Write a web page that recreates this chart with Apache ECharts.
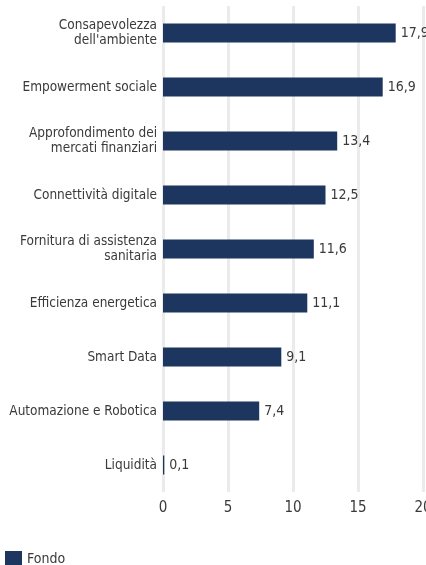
<!DOCTYPE html>
<html>
<head>
<meta charset="utf-8">
<script src="https://cdn.jsdelivr.net/npm/echarts@6/dist/echarts.min.js"></script>
<style>
  html, body { margin: 0; padding: 0; background: #fff; }
  #chart { width: 426px; height: 565px; }
</style>
</head>
<body>
<div id="chart"></div>
<script>
  // categorie dall'alto verso il basso
  const categories = [
    'Consapevolezza\ndell\'ambiente',
    'Empowerment sociale',
    'Approfondimento dei\nmercati finanziari',
    'Connettività digitale',
    'Fornitura di assistenza\nsanitaria',
    'Efficienza energetica',
    'Smart Data',
    'Automazione e Robotica',
    'Liquidità',
  ];
  const fondo = [17.9, 16.9, 13.4, 12.5, 11.6, 11.1, 9.1, 7.4, 0.1];
  const xTicks = [0, 5, 10, 15, 20];

  const font = '"DejaVu Sans Condensed", "Liberation Sans Narrow", sans-serif';
  const textColor = '#3a3a3a';
  const barColor = '#1c365f';

  const chart = echarts.init(document.getElementById('chart'));

  const option = {
    animation: false,
    textStyle: { fontFamily: font },
    legend: {
      data: ['Fondo'],
      left: 0,
      top: 546,
      itemWidth: 17,
      itemHeight: 17,
      itemGap: 8,
      icon: 'rect',
      textStyle: { color: textColor, fontSize: 14, fontFamily: font },
    },
    grid: {
      left: 163,
      right: 3,
      top: 6,
      bottom: 73,
      containLabel: false,
      outerBoundsMode: 'none',
    },
    xAxis: {
      type: 'value',
      min: xTicks[0],
      max: xTicks[xTicks.length - 1],
      interval: 5,
      axisLine: { show: false },
      axisTick: { show: false },
      axisLabel: {
        color: textColor,
        fontSize: 15,
        margin: 9,
        fontFamily: font,
      },
      splitLine: {
        show: true,
        lineStyle: { color: '#ebebeb', width: 3 },
      },
    },
    yAxis: {
      type: 'category',
      data: categories,
      inverse: true,
      axisLine: { show: false },
      axisTick: { show: false },
      axisLabel: {
        color: textColor,
        fontSize: 13.5,
        lineHeight: 15,
        margin: 6,
        fontFamily: font,
      },
    },
    series: [
      {
        name: 'Fondo',
        type: 'bar',
        data: fondo,
        barWidth: 19,
        itemStyle: { color: barColor },
        label: {
          show: true,
          position: 'right',
          distance: 5,
          color: textColor,
          fontSize: 14,
          fontFamily: font,
          formatter: (p) => String(p.value).replace('.', ','),
        },
      },
    ],
  };

  chart.setOption(option);
</script>
</body>
</html>
